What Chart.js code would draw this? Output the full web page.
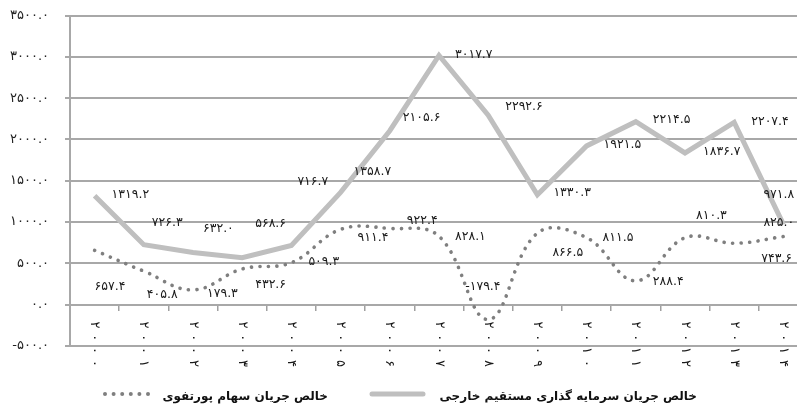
<!DOCTYPE html>
<html>
<head>
<meta charset="utf-8">
<script src="https://cdn.jsdelivr.net/npm/chart.js@4.4.1/dist/chart.umd.min.js"></script>
<style>
  html, body { margin: 0; padding: 0; background: #ffffff; overflow: hidden; }
  #wrap { width: 810px; height: 409px; }
</style>
</head>
<body>
<div id="wrap"><canvas id="c" width="810" height="409"></canvas></div>
<script>
// Years on the category axis
const years = ['2000', '2001', '2002', '2003', '2004', '2005', '2006', '2007',
               '2008', '2009', '2010', '2011', '2012', '2013', '2014'];

// Net portfolio equity flow
const portfolioFlow = [657.4, 405.8, 179.3, 432.6, 509.3, 911.4, 922.4, 828.1,
                       -179.4, 866.5, 811.5, 288.4, 810.3, 743.6, 825.0];

// Net foreign direct investment flow
const fdiFlow = [1319.2, 726.3, 632.0, 568.6, 716.7, 1358.7, 2105.6, 3017.7,
                 2292.6, 1330.3, 1921.5, 2214.5, 1836.7, 2207.4, 971.8];

// Value axis range
const yMin = -500;
const yMax = 3500;
const yStep = 500;

// Series names
const seriesNames = ['خالص جریان سهام پورتفوی', 'خالص جریان سرمایه گذاری مستقیم خارجی'];

// Label placement: [left-edge offset from point, vertical centre offset]
const fdiLabelOffsets = [[17, -1], [8, -22], [10, -24], [13, -34], [6, -64], [13, -21], [13, -13],
                         [16, -1], [17, -9], [16, -2], [17, -1], [17, -2], [18, -1], [17, -1], [-20, -30]];
const portfolioLabelOffsets = [[0, 36], [3, 24], [14, 4], [13, 16], [17, -1], [17, 8], [17, -8],
                               [16, 0], [-23, -33], [15, 20], [16, 0], [17, 1], [11, -22], [27, 16], [-20, -14]];

const FONT = '"DejaVu Sans", sans-serif';
const toPersian = s => String(s).replace(/[0-9]/g, d => '۰۱۲۳۴۵۶۷۸۹'[d]);
const fmt = v => toPersian(Number(v).toFixed(1));

const decorations = {
  id: 'decorations',
  afterDatasetsDraw(chart) {
    const ctx = chart.ctx;
    const xs = chart.scales.x;

    // value labels
    ctx.save();
    ctx.font = '12.5px ' + FONT;
    ctx.fillStyle = '#1a1a1a';
    ctx.textAlign = 'left';
    ctx.textBaseline = 'middle';
    [[1, fdiFlow, fdiLabelOffsets], [0, portfolioFlow, portfolioLabelOffsets]].forEach(([di, vals, offs]) => {
      const meta = chart.getDatasetMeta(di);
      vals.forEach((v, i) => {
        const p = meta.data[i];
        ctx.fillText(fmt(v), p.x + offs[i][0], p.y + offs[i][1]);
      });
    });
    ctx.restore();

    // rotated year labels, read top to bottom
    ctx.save();
    ctx.font = '13px ' + FONT;
    ctx.fillStyle = '#1a1a1a';
    ctx.textAlign = 'center';
    ctx.textBaseline = 'middle';
    years.forEach((y, i) => {
      const x = xs.getPixelForValue(i);
      const chars = Array.from(toPersian(y));
      chars.forEach((ch, k) => {
        ctx.save();
        ctx.translate(x, 325 + k * 12.8);
        ctx.rotate(Math.PI / 2);
        ctx.fillText(ch, 0, 0);
        ctx.restore();
      });
    });
    ctx.restore();

    // legend
    ctx.save();
    const ly = 394;
    ctx.fillStyle = '#7f7f7f';
    for (let k = 0; k < 6; k++) {
      ctx.beginPath();
      ctx.arc(105 + k * 8.6, ly, 2, 0, Math.PI * 2);
      ctx.fill();
    }
    ctx.strokeStyle = '#bfbfbf';
    ctx.lineWidth = 5;
    ctx.lineCap = 'round';
    ctx.beginPath();
    ctx.moveTo(372, ly);
    ctx.lineTo(423, ly);
    ctx.stroke();
    ctx.fillStyle = '#111111';
    ctx.font = 'bold 12px ' + FONT;
    ctx.textAlign = 'right';
    ctx.textBaseline = 'middle';
    ctx.fillText(seriesNames[0], 328, ly + 3);
    ctx.fillText(seriesNames[1], 697, ly + 3);
    ctx.restore();
  }
};

new Chart(document.getElementById('c'), {
  type: 'line',
  data: {
    labels: years,
    datasets: [
      {
        label: seriesNames[0],
        data: portfolioFlow,
        borderColor: '#7f7f7f',
        borderWidth: 3.6,
        borderDash: [0.1, 8.4],
        borderCapStyle: 'round',
        tension: 0.4,
        pointRadius: 0,
        fill: false
      },
      {
        label: seriesNames[1],
        data: fdiFlow,
        borderColor: '#bfbfbf',
        borderWidth: 5,
        tension: 0,
        pointRadius: 0,
        fill: false
      }
    ]
  },
  options: {
    responsive: false,
    animation: false,
    devicePixelRatio: 1,
    layout: { padding: { top: 15.5, bottom: 63, left: 0, right: 2 } },
    plugins: { legend: { display: false }, tooltip: { enabled: false } },
    scales: {
      x: {
        position: { y: 0 },
        offset: true,
        grid: { offset: true, drawOnChartArea: false, drawTicks: true, tickLength: 6, color: '#a0a0a0', lineWidth: 1.5 },
        border: { display: false },
        ticks: { display: false }
      },
      y: {
        min: yMin,
        max: yMax,
        ticks: {
          stepSize: yStep,
          callback: v => fmt(v),
          font: { family: FONT, size: 13 },
          color: '#222222',
          padding: 16
        },
        grid: { color: '#a8a8a8', lineWidth: 2, tickLength: 5 },
        border: { color: '#a8a8a8', width: 2 },
        afterFit(scale) {
          scale.width = 70;
          scale.paddingTop = 0;
          scale.paddingBottom = 0;
        }
      }
    }
  },
  plugins: [decorations]
});
</script>
</body>
</html>
